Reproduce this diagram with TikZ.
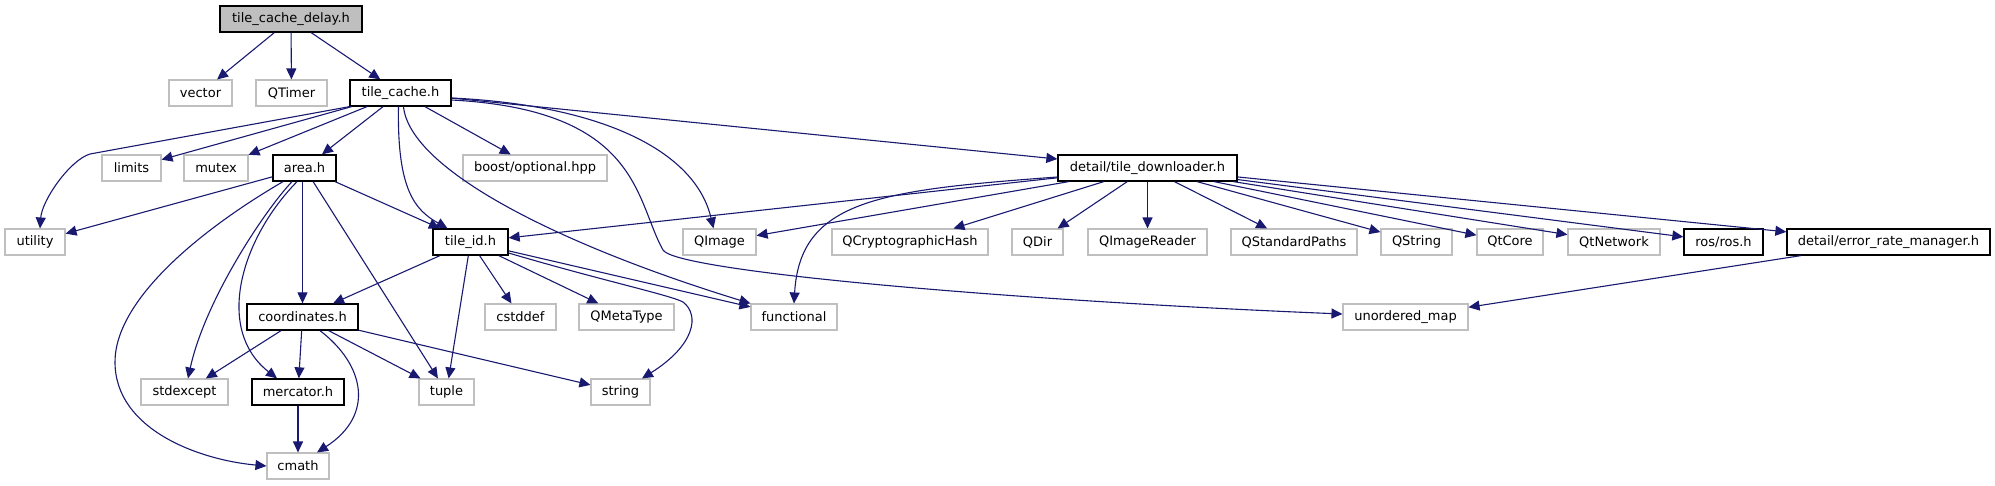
\documentclass[tikz,border=0pt]{standalone}
\usepackage{fontspec}
\setmainfont{DejaVu Sans}
\usetikzlibrary{arrows.meta}
\definecolor{edgec}{HTML}{191970}
\definecolor{greyc}{HTML}{BFBFBF}
\definecolor{darkc}{HTML}{000000}
\begin{document}
\begin{tikzpicture}[x=1pt,y=-1pt,
  every node/.style={font=\fontsize{13}{15}\selectfont},
  gnode/.style={draw=greyc, line width=1.1pt, fill=white, minimum height=26pt, inner sep=0pt},
  bnode/.style={draw=darkc, line width=1.3pt, fill=white, minimum height=26pt, inner sep=0pt},
  rnode/.style={draw=darkc, line width=1.3pt, fill=greyc, minimum height=26pt, inner sep=0pt},
  e/.style={draw=edgec, line width=1.1pt, -{Triangle[length=11pt,width=10pt]}}]
\useasboundingbox (0,0) rectangle (1995,485);
% row 0
\node[rnode, minimum width=142pt] (root) at (291,19) {tile\_cache\_delay.h};
% row 1
\node[gnode, minimum width=63pt] (vector) at (200.5,93) {vector};
\node[gnode, minimum width=71pt] (qtimer) at (291.5,93) {QTimer};
\node[bnode, minimum width=101pt] (tc) at (400.5,93) {tile\_cache.h};
% row 2
\node[gnode, minimum width=59pt] (limits) at (131.5,168) {limits};
\node[gnode, minimum width=64pt] (mutex) at (216,168) {mutex};
\node[bnode, minimum width=63pt] (area) at (304.5,168) {area.h};
\node[gnode, minimum width=144pt] (boost) at (535,168) {boost/optional.hpp};
\node[bnode, minimum width=179pt] (td) at (1147.5,168) {detail/tile\_downloader.h};
% row 3
\node[gnode, minimum width=60pt] (utility) at (35,242) {utility};
\node[bnode, minimum width=75pt] (tid) at (470.5,242) {tile\_id.h};
\node[gnode, minimum width=73pt] (qimage) at (719.5,242) {QImage};
\node[gnode, minimum width=156pt] (qcrypt) at (910,242) {QCryptographicHash};
\node[gnode, minimum width=51pt] (qdir) at (1037.5,242) {QDir};
\node[gnode, minimum width=119pt] (qir) at (1147.5,242) {QImageReader};
\node[gnode, minimum width=126pt] (qsp) at (1294,242) {QStandardPaths};
\node[gnode, minimum width=71pt] (qstring) at (1416.5,242) {QString};
\node[gnode, minimum width=66pt] (qtcore) at (1510,242) {QtCore};
\node[gnode, minimum width=92pt] (qtnet) at (1614,242) {QtNetwork};
\node[bnode, minimum width=79pt] (ros) at (1723.5,242) {ros/ros.h};
\node[bnode, minimum width=203pt] (erm) at (1888.5,242) {detail/error\_rate\_manager.h};
% row 4
\node[bnode, minimum width=111pt] (coord) at (302.5,317) {coordinates.h};
\node[gnode, minimum width=71pt] (cstddef) at (520.5,317) {cstddef};
\node[gnode, minimum width=95pt] (qmeta) at (626.5,317) {QMetaType};
\node[gnode, minimum width=86pt] (functional) at (794,317) {functional};
\node[gnode, minimum width=125pt] (umap) at (1405.5,317) {unordered\_map};
% row 5
\node[gnode, minimum width=87pt] (stdexcept) at (184.5,392) {stdexcept};
\node[bnode, minimum width=92pt] (mercator) at (298,392) {mercator.h};
\node[gnode, minimum width=55pt] (tuple) at (446.5,392) {tuple};
\node[gnode, minimum width=59pt] (string) at (620.5,392) {string};
% row 6
\node[gnode, minimum width=62pt] (cmath) at (298,466) {cmath};

% edges from root
\draw[e] (root) -- (vector);
\draw[e] (root) -- (qtimer);
\draw[e] (root) -- (tc);
% edges from tile_cache.h
\draw[e] (tc.south west) -- (90,154) .. controls (70,160) and (42,200) .. ([xshift=5pt]utility.north);
\draw[e] (tc) -- (limits);
\draw[e] (tc) -- (mutex);
\draw[e] (tc) -- (area);
\draw[e] ([xshift=-2pt]tc.south) .. controls (397,190) and (415,210) .. ([xshift=-23pt]tid.north);
\draw[e] ([xshift=3pt]tc.south) .. controls (410,170) and (560,245) .. (functional.north west);
\draw[e] (tc) -- (boost);
\draw[e] ([yshift=-5pt]tc.east) .. controls (600,105) and (695,150) .. ([xshift=-6pt]qimage.north);
\draw[e] ([yshift=-7pt]tc.east) .. controls (640,110) and (635,200) .. (663,250) .. controls (675,271) and (1000,300) .. ([yshift=3pt]umap.west);
\draw[e] (tc) -- (td);
% edges from area.h
\draw[e] (area) -- (utility);
\draw[e] (area) -- (tid);
\draw[e] (area.south -| coord.north) -- (coord.north);
\draw[e] ([xshift=-12.5pt]area.south) .. controls (265,210) and (205,300) .. ([xshift=3.5pt]stdexcept.north);
\draw[e] ([xshift=-7.5pt]area.south) .. controls (240,240) and (215,330) .. ([xshift=-21pt]mercator.north);
\draw[e] ([xshift=-21.5pt]area.south) .. controls (200,230) and (115,300) .. (115,362) .. controls (115,430) and (200,460) .. (cmath.west);
\draw[e] (area) -- (tuple);
% edges from tile_id.h
\draw[e] (tid) -- (coord);
\draw[e] (tid) -- (tuple);
\draw[e] (tid) -- (cstddef);
\draw[e] (tid) -- (qmeta);
\draw[e] (tid) -- (functional);
\draw[e] ([yshift=-11pt]tid.east) .. controls (600,280) and (670,295) .. (683,302) .. controls (700,315) and (695,345) .. ([xshift=21.5pt]string.north);
% edges from coordinates.h
\draw[e] (coord) -- (stdexcept);
\draw[e] (coord) -- (mercator);
\draw[e] ([xshift=17.5pt]coord.south) .. controls (365,365) and (375,415) .. ([xshift=19pt]cmath.north);
\draw[e] (coord) -- (tuple);
\draw[e] (coord) -- (string);
% mercator
\draw[e] (mercator) -- (cmath);
% edges from tile_downloader
\draw[e] (td) -- (tid);
\draw[e] (td) -- (qimage);
\draw[e] ([yshift=-9pt]td.west) .. controls (880,190) and (800,200) .. (functional.north);
\draw[e] (td) -- (qcrypt);
\draw[e] (td) -- (qdir);
\draw[e] (td) -- (qir);
\draw[e] (td) -- (qsp);
\draw[e] (td) -- (qstring);
\draw[e] (td) -- (qtcore);
\draw[e] (td) -- (qtnet);
\draw[e] (td) -- (ros);
\draw[e] (td) -- (erm);
% error_rate_manager
\draw[e] (erm) -- (umap);
\end{tikzpicture}
\end{document}
